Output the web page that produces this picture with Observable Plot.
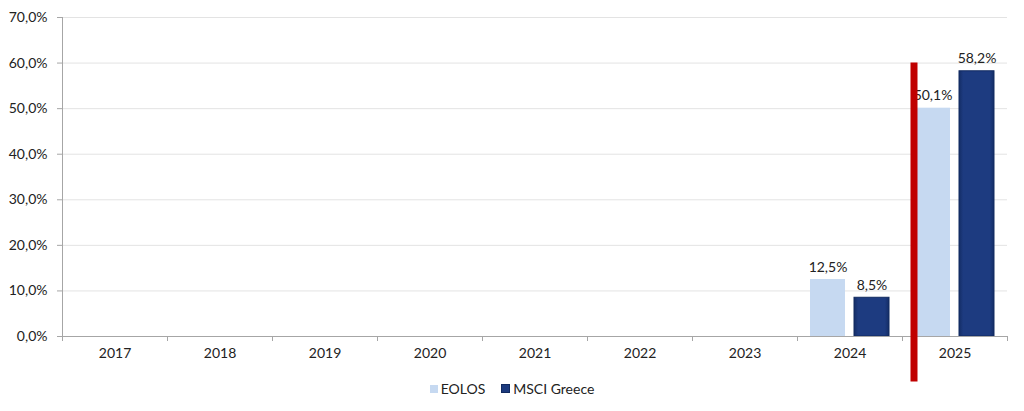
<!DOCTYPE html>
<html>
<head>
<meta charset="utf-8">
<script src="https://cdn.jsdelivr.net/npm/d3@7"></script>
<script src="https://cdn.jsdelivr.net/npm/@observablehq/plot@0.6"></script>
<style>
  html, body { margin: 0; padding: 0; background: #fff; }
  #wrap { position: relative; width: 1024px; height: 411px; font-family: Lato, "Open Sans", sans-serif; }
  #legend { position: absolute; left: 0; top: 381px; width: 1024px; display: flex; justify-content: center; gap: 16px; font-size: 14px; color: #222; line-height: 15px; }
  #legend span.sw { display: inline-block; width: 8px; height: 8px; margin-right: 3px; vertical-align: 1px; }
</style>
</head>
<body>
<div id="wrap"></div>
<script>
const years = ["2017", "2018", "2019", "2020", "2021", "2022", "2023", "2024", "2025"];
const seriesNames = ["EOLOS", "MSCI Greece"];
const eolos = [null, null, null, null, null, null, null, 12.5, 50.1];
const msci = [null, null, null, null, null, null, null, 8.5, 58.2];
const yTicks = [0, 10, 20, 30, 40, 50, 60, 70];
const markerYear = ["2025"];
const markerRange = [60, -10];

const colors = { "EOLOS": "#c6d9f1", "MSCI Greece": "#1c3a7e" };
const fmt = v => d3.format(".1f")(v).replace(".", ",") + "%";

const eolosData = years.map((y, i) => ({ year: y, value: eolos[i] })).filter(d => d.value != null);
const msciData = years.map((y, i) => ({ year: y, value: msci[i] })).filter(d => d.value != null);

const W = 1024, H = 383;
const mL = 62, mR = 17, mT = 17, mB = H - 336;
const bw = (W - mL - mR) / years.length;

const chart = Plot.plot({
  width: W,
  height: H,
  marginLeft: mL,
  marginRight: mR,
  marginTop: mT,
  marginBottom: mB,
  style: { fontFamily: "Lato, 'Open Sans', sans-serif", fontSize: "14px", color: "#222", overflow: "visible" },
  x: { type: "band", domain: years, padding: 0, axis: null },
  y: { domain: [0, 70], axis: null },
  marks: [
    Plot.ruleY(yTicks.filter(t => t > 0), { y: d => d, stroke: "#e3e3e3", strokeWidth: 1 }),
    Plot.axisY({ ticks: yTicks, tickFormat: fmt, tickSize: 5, tickPadding: 10, stroke: "#a6a6a6", fill: "#222", fontSize: 14, label: null }),
    Plot.ruleX(years.slice(0, 1), { x: d => d, y1: 0, y2: 70, dx: -bw / 2, stroke: "#a6a6a6" }),
    Plot.barY(eolosData, { x: "year", y: "value", fill: colors["EOLOS"], insetLeft: 13, insetRight: bw - 13 - 35 }),
    Plot.barY(msciData, { x: "year", y: "value", fill: "url(#msciGrad)", stroke: "#112a60", strokeWidth: 1, insetLeft: bw - 13 - 35, insetRight: 13 }),
    Plot.ruleY([0], { stroke: "#a6a6a6", strokeWidth: 1 }),
    Plot.ruleX(years, { x: d => d, y1: 0, y2: 0, insetBottom: -5, dx: -bw / 2, stroke: "#a6a6a6" }),
    Plot.ruleX(years.slice(-1), { x: d => d, y1: 0, y2: 0, insetBottom: -5, dx: bw / 2, stroke: "#a6a6a6" }),
    Plot.axisX({ tickSize: 0, tickPadding: 12, fill: "#222", fontSize: 14, label: null }),
    Plot.text(eolosData, { x: "year", y: "value", text: d => fmt(d.value), dx: 13 + 17.5 - bw / 2, dy: -8, lineAnchor: "bottom", fill: "#222", fontSize: 14 }),
    Plot.text(msciData, { x: "year", y: "value", text: d => fmt(d.value), dx: bw / 2 - 13 - 17.5, dy: -8, lineAnchor: "bottom", fill: "#222", fontSize: 14 }),
    Plot.ruleX(markerYear, { x: d => d, y1: markerRange[0], y2: markerRange[1], dx: -bw / 2 + 11.5, stroke: "#c00000", strokeWidth: 7 })
  ]
});

const defs = document.createElementNS("http://www.w3.org/2000/svg", "defs");
defs.innerHTML = `
  <linearGradient id="msciGrad" x1="0" y1="0" x2="1" y2="0">
    <stop offset="0" stop-color="#142d66"/>
    <stop offset="0.12" stop-color="#1d3b80"/>
    <stop offset="0.88" stop-color="#1d3b80"/>
    <stop offset="1" stop-color="#142d66"/>
  </linearGradient>`;
chart.insertBefore(defs, chart.firstChild);

const wrap = document.getElementById("wrap");
wrap.appendChild(chart);

const legend = document.createElement("div");
legend.id = "legend";
legend.innerHTML = seriesNames.map(n =>
  `<div><span class="sw" style="background:${colors[n]};${n === "MSCI Greece" ? "border:1px solid #112a60;width:7px;height:7px;" : ""}"></span>${n}</div>`
).join("");
wrap.appendChild(legend);
</script>
</body>
</html>
